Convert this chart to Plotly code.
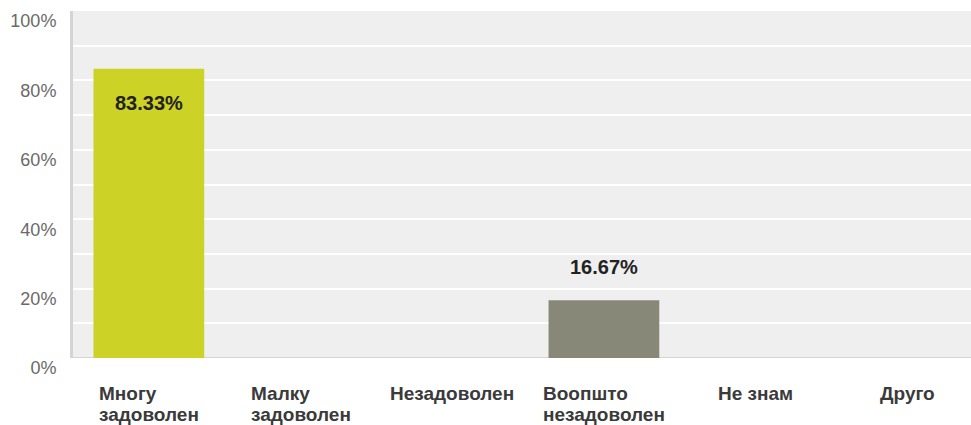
import plotly.graph_objects as go

# Survey answers and their shares (percent)
categories = ["Многу<br>задоволен", "Малку<br>задоволен", "Незадоволен",
              "Воопшто<br>незадоволен", "Не знам", "Друго"]
shares = [83.33, 0, 0, 16.67, 0, 0]
bar_colors = ["#cdd226", "#cdd226", "#cdd226", "#878878", "#878878", "#878878"]
y_ticks = [0, 20, 40, 60, 80, 100]
y_tick_labels = ["0%", "20%", "40%", "60%", "80%", "100%"]

FONT = "Liberation Sans, Arial, sans-serif"
x_idx = list(range(len(categories)))

fig = go.Figure()
fig.add_trace(go.Bar(
    x=x_idx, y=shares, width=0.73,
    marker=dict(color=bar_colors, line=dict(width=0)),
    hoverinfo="skip",
))

annotations = []
# value labels: inside the bar when tall, above it otherwise
for i, v in zip(x_idx, shares):
    if v <= 0:
        continue
    annotations.append(dict(
        x=i, y=v, xref="x", yref="y", text=f"<b>{v:.2f}%</b>", showarrow=False,
        yanchor="middle", yshift=-34 if v > 50 else 33,
        font=dict(family=FONT, size=20, color="#222222"),
    ))
# category labels under the axis, lines left-aligned in a centred block;
# the larger inline size keeps the tighter line spacing of the 16px base font
for i, c in zip(x_idx, categories):
    lines = c.split("<br>")
    text = "<br>".join(f'<span style="font-size:19px"><b>{ln}</b></span>' for ln in lines)
    annotations.append(dict(
        x=i, y=0, xref="x", yref="y", text=text, showarrow=False,
        xanchor="center", yanchor="top", align="left", yshift=-23,
        font=dict(family=FONT, size=16, color="#3a3a3a"),
    ))

fig.update_layout(
    width=971, height=425,
    margin=dict(l=73, r=0, t=11, b=67),
    paper_bgcolor="white", plot_bgcolor="#efefef",
    showlegend=False,
    annotations=annotations,
    xaxis=dict(range=[-0.5, 5.42], showticklabels=False, showgrid=False,
               zeroline=False, showline=False, fixedrange=True),
    yaxis=dict(range=[0, 100], tickvals=y_ticks, ticktext=y_tick_labels,
               showgrid=True, gridcolor="#ffffff", gridwidth=2,
               minor=dict(dtick=10, showgrid=True, gridcolor="#ffffff", gridwidth=2),
               zeroline=False, showline=True, linecolor="#d4d4d4", linewidth=3,
               ticks="", ticklabelshift=10, ticklabelstandoff=10,
               tickfont=dict(family=FONT, size=18, color="#6a6a6a"),
               fixedrange=True),
)

# baseline under the bars
fig.add_shape(type="line", xref="paper", yref="y", x0=0, x1=1, y0=0, y1=0,
              line=dict(color="#d4d4d4", width=2), layer="below")

fig.write_html("out.html")
